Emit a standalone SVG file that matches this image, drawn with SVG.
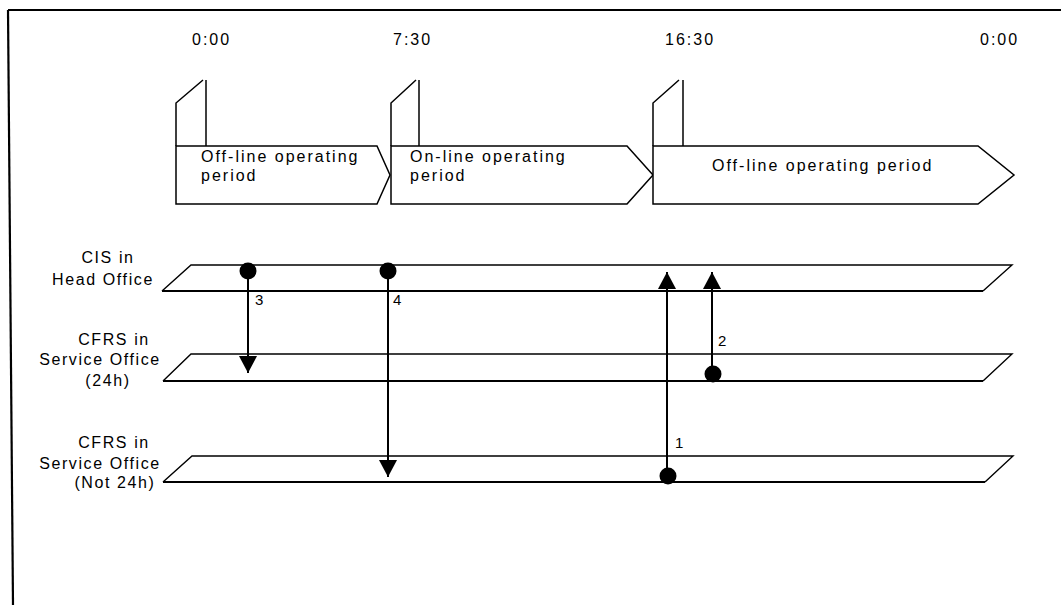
<svg xmlns="http://www.w3.org/2000/svg" width="1061" height="605" viewBox="0 0 1061 605">
<style>
.t{font-family:"Liberation Sans",Arial,sans-serif;font-size:16px;letter-spacing:2px;fill:#000}
.l{letter-spacing:1.6px}
.n{font-family:"Liberation Sans",Arial,sans-serif;font-size:15px;fill:#000}
.m{text-anchor:middle}
.shape{fill:#fff;stroke:#000;stroke-width:1.5}
.tab{fill:none;stroke:#000;stroke-width:1.5}
.laneTop{stroke:#000;stroke-width:1.4;fill:none}
.laneBot{stroke:#000;stroke-width:2.2;fill:none}
.conn{stroke:#000;stroke-width:2;fill:none}
</style>
<defs>
<marker id="ah" viewBox="0 0 18 18" refX="17" refY="9" markerWidth="18" markerHeight="18" markerUnits="userSpaceOnUse" orient="auto">
<path d="M0,0 L17,9 L0,18 Z" fill="#000"/>
</marker>
</defs>
<rect x="0" y="0" width="1061" height="605" fill="#fff"/>
<g id="frame">
<line x1="8" y1="10" x2="1061" y2="10" stroke="#000" stroke-width="1.8"/>
<line x1="8" y1="10" x2="13" y2="605" stroke="#000" stroke-width="2.2"/>
</g>
<g id="times">
<text class="t" x="192" y="45">0:00</text>
<text class="t" x="393" y="45">7:30</text>
<text class="t" x="665" y="45">16:30</text>
<text class="t" x="980" y="45">0:00</text>
</g>
<g id="period1">
<polyline class="tab" points="176,146 176,103 203,80"/>
<line class="tab" x1="206" y1="80" x2="206" y2="146"/>
<polygon class="shape" points="176,146 377,146 390,175 377,204 176,204"/>
<text class="t" x="201" y="162">Off-line operating</text>
<text class="t" x="201" y="181">period</text>
</g>
<g id="period2">
<polyline class="tab" points="391,146 391,103 416,80"/>
<line class="tab" x1="419" y1="80" x2="419" y2="146"/>
<polygon class="shape" points="391,146 627,146 653,175 627,204 391,204"/>
<text class="t" x="410" y="162">On-line operating</text>
<text class="t" x="410" y="181">period</text>
</g>
<g id="period3">
<polyline class="tab" points="653,146 653,103 679,80"/>
<line class="tab" x1="683" y1="80" x2="683" y2="146"/>
<polygon class="shape" points="653,146 978,146 1014,175 978,204 653,204"/>
<text class="t" x="712" y="171">Off-line operating period</text>
</g>
<g id="lane-cis">
<text class="t l m" x="108" y="263">CIS in</text>
<text class="t l m" x="103" y="285">Head Office</text>
<polyline class="laneTop" points="162,291 191,265 1012,265 983,291"/>
<line class="laneBot" x1="162" y1="291" x2="983" y2="291"/>
</g>
<g id="lane-cfrs24">
<text class="t l m" x="114" y="345">CFRS in</text>
<text class="t l m" x="100" y="365">Service Office</text>
<text class="t l m" x="108" y="386">(24h)</text>
<polyline class="laneTop" points="163,381 191,354 1012,354 983,381"/>
<line class="laneBot" x1="163" y1="381" x2="983" y2="381"/>
</g>
<g id="lane-cfrsNot24">
<text class="t l m" x="114" y="448">CFRS in</text>
<text class="t l m" x="100" y="469">Service Office</text>
<text class="t l m" x="115" y="488">(Not 24h)</text>
<polyline class="laneTop" points="163,482 192,456 1013,456 985,482"/>
<line class="laneBot" x1="163" y1="482" x2="985" y2="482"/>
</g>
<g id="connectors">
<g id="flow3">
<circle cx="248" cy="271" r="8.5" fill="#000"/>
<line class="conn" x1="248" y1="271" x2="248" y2="373" marker-end="url(#ah)"/>
<text class="n" x="255" y="305">3</text>
</g>
<g id="flow4">
<circle cx="388" cy="271" r="8.5" fill="#000"/>
<line class="conn" x1="388" y1="271" x2="388" y2="477" marker-end="url(#ah)"/>
<text class="n" x="393" y="305">4</text>
</g>
<g id="flow1">
<circle cx="668" cy="476" r="8.5" fill="#000"/>
<line class="conn" x1="667" y1="476" x2="667" y2="272" marker-end="url(#ah)"/>
<text class="n" x="675" y="448">1</text>
</g>
<g id="flow2">
<circle cx="713" cy="374" r="8.5" fill="#000"/>
<line class="conn" x1="712" y1="374" x2="712" y2="272" marker-end="url(#ah)"/>
<text class="n" x="718" y="346">2</text>
</g>
</g>
</svg>
